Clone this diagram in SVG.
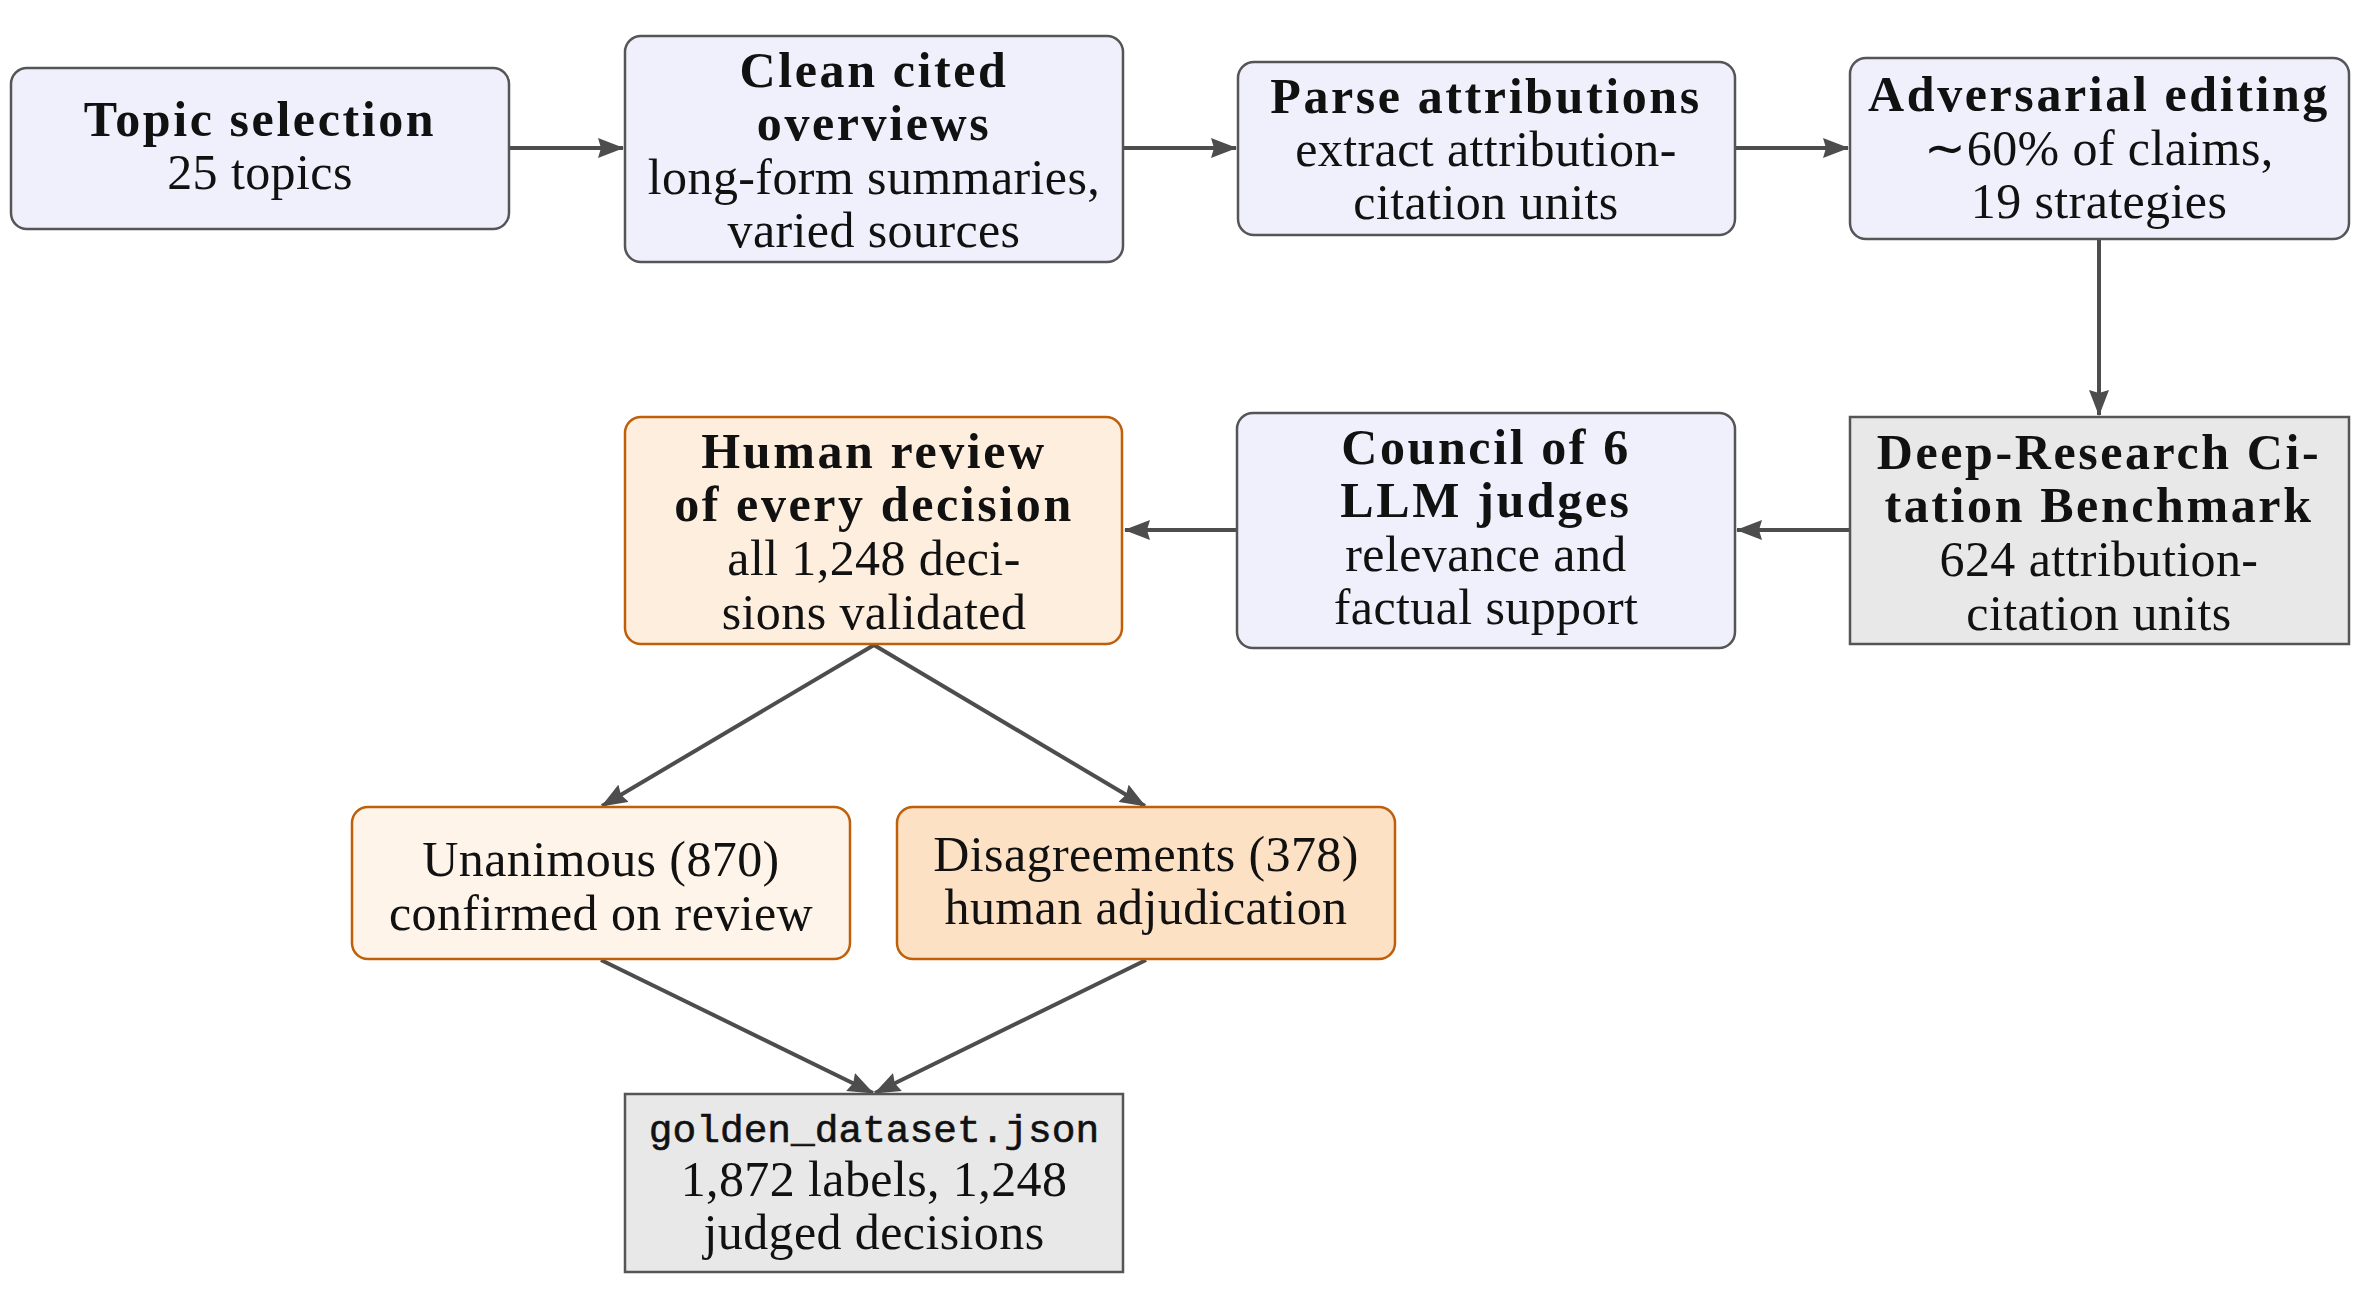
<svg xmlns="http://www.w3.org/2000/svg" width="2360" height="1300" viewBox="0 0 2360 1300">
<defs>
<marker id="ah" viewBox="0 0 26 20" refX="25" refY="10" markerWidth="26" markerHeight="20" markerUnits="userSpaceOnUse" orient="auto">
<path d="M0,0 L26,10 L0,20 L3,10 Z" fill="#4D4D4D"/>
</marker>
<style>
.blue{fill:#F0F0FC;stroke:#555555;stroke-width:2.5}
.gray{fill:#E8E8E8;stroke:#555555;stroke-width:2.5}
.hum{fill:#FEEEDE;stroke:#BF5F0A;stroke-width:2.5}
.una{fill:#FEF4EA;stroke:#BF5F0A;stroke-width:2.5}
.dis{fill:#FDE1C5;stroke:#BF5F0A;stroke-width:2.5}
text{font-family:"Liberation Serif","Times New Roman",serif;font-size:50px;letter-spacing:0.4px;fill:#111;text-anchor:middle}
.b{font-weight:bold;font-size:50px;letter-spacing:2.6px}
.m{font-family:"Liberation Mono","Courier New",monospace;font-size:39.5px;letter-spacing:0;stroke:#111;stroke-width:0.6}
.c{fill:none;stroke:#4D4D4D;stroke-width:4;marker-end:url(#ah)}
</style>
</defs>
<g id="connectors">
<line class="c" x1="510" y1="148" x2="623" y2="148"/>
<line class="c" x1="1124" y1="148" x2="1236" y2="148"/>
<line class="c" x1="1736" y1="148" x2="1848" y2="148"/>
<line class="c" x1="2099" y1="240" x2="2099" y2="415"/>
<line class="c" x1="1849" y1="530" x2="1737" y2="530"/>
<line class="c" x1="1236" y1="530" x2="1125" y2="530"/>
<line class="c" x1="874" y1="645" x2="602" y2="806"/>
<line class="c" x1="874" y1="645" x2="1145" y2="806"/>
<line class="c" x1="601" y1="960" x2="873" y2="1093"/>
<line class="c" x1="1146" y1="960" x2="875" y2="1093"/>
</g>
<g id="topic">
<rect class="blue" x="11" y="68" width="498" height="161" rx="16"/>
<text x="260" y="136" class="b">Topic selection</text>
<text x="260" y="189">25 topics</text>
</g>
<g id="clean">
<rect class="blue" x="625" y="36" width="498" height="226" rx="16"/>
<text x="874" y="87" class="b">Clean cited</text>
<text x="874" y="140" class="b">overviews</text>
<text x="874" y="194">long-form summaries,</text>
<text x="874" y="247">varied sources</text>
</g>
<g id="parse">
<rect class="blue" x="1238" y="62" width="497" height="173" rx="16"/>
<text x="1486" y="113" class="b">Parse attributions</text>
<text x="1486" y="166">extract attribution-</text>
<text x="1486" y="219">citation units</text>
</g>
<g id="adversarial">
<rect class="blue" x="1850" y="58" width="499" height="181" rx="16"/>
<text x="2099" y="111" class="b">Adversarial editing</text>
<text x="2099" y="165">∼60% of claims,</text>
<text x="2099" y="218">19 strategies</text>
</g>
<g id="benchmark">
<rect class="gray" x="1850" y="417" width="499" height="227"/>
<text x="2099" y="469" class="b">Deep-Research Ci-</text>
<text x="2099" y="522" class="b">tation Benchmark</text>
<text x="2099" y="576">624 attribution-</text>
<text x="2099" y="630">citation units</text>
</g>
<g id="council">
<rect class="blue" x="1237" y="413" width="498" height="235" rx="16"/>
<text x="1486" y="464" class="b">Council of 6</text>
<text x="1486" y="517" class="b">LLM judges</text>
<text x="1486" y="571">relevance and</text>
<text x="1486" y="624">factual support</text>
</g>
<g id="human">
<rect class="hum" x="625" y="417" width="497" height="227" rx="16"/>
<text x="874" y="468" class="b">Human review</text>
<text x="874" y="521" class="b">of every decision</text>
<text x="874" y="575">all 1,248 deci-</text>
<text x="874" y="629">sions validated</text>
</g>
<g id="unanimous">
<rect class="una" x="352" y="807" width="498" height="152" rx="16"/>
<text x="601" y="876">Unanimous (870)</text>
<text x="601" y="930">confirmed on review</text>
</g>
<g id="disagreements">
<rect class="dis" x="897" y="807" width="498" height="152" rx="16"/>
<text x="1146" y="871">Disagreements (378)</text>
<text x="1146" y="924">human adjudication</text>
</g>
<g id="golden">
<rect class="gray" x="625" y="1094" width="498" height="178"/>
<text x="874" y="1142" class="m">golden_dataset.json</text>
<text x="874" y="1196">1,872 labels, 1,248</text>
<text x="874" y="1249">judged decisions</text>
</g>
</svg>
